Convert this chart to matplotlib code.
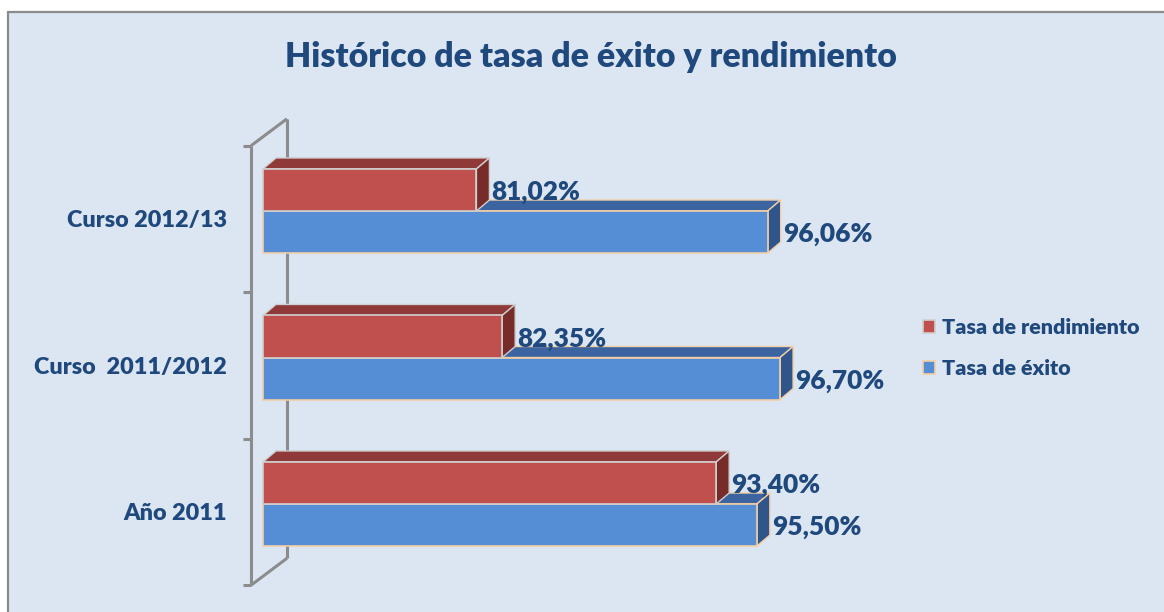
import matplotlib
matplotlib.use('Agg')
import matplotlib.pyplot as plt
from matplotlib.patches import Polygon, Rectangle, Patch
from matplotlib.lines import Line2D
from matplotlib.transforms import IdentityTransform
import numpy as np

# ---------------- data ----------------
categories = ['Año 2011', 'Curso  2011/2012', 'Curso 2012/13']
tasa_exito = [95.50, 96.70, 96.06]
tasa_rendimiento = [93.40, 82.35, 81.02]
series_names = ['Tasa de rendimiento', 'Tasa de éxito']
title = 'Histórico de tasa de éxito y rendimiento'
x_min, x_max = 70, 100

# ---------------- style ----------------
W, H, DPI = 1164, 612, 100
BG = '#DCE6F2'
TXT = '#1F497D'
RED, RED_TOP, RED_SIDE, RED_EDGE = '#C0504D', '#8F3A38', '#772C2A', '#CFCFCF'
BLUE, BLUE_TOP, BLUE_SIDE, BLUE_EDGE = '#558ED5', '#3B64A0', '#30558A', '#F3CFA6'
WALL = '#8C8C8C'
FONT = 'Lato'
WEIGHT = 'heavy'
DX, DY = 13, 11          # bar depth (pixels)
WX, WY = 36, 27          # wall depth (pixels)
WOFF = (-12, -8)         # wall front plane offset from bar front plane

fig = plt.figure(figsize=(W / DPI, H / DPI), dpi=DPI)
fig.patch.set_facecolor('white')
fig.patches.append(Rectangle((8 / W, -0.02), 1.02 - 8 / W, 1 - 12 / H + 0.02,
                             transform=fig.transFigure, facecolor=BG,
                             edgecolor='#8A8A8A', linewidth=1.6, zorder=-10))

ax = fig.add_axes([263 / W, (H - 577.25) / H, (844 - 263) / W, 439.5 / H])
ax.set_xlim(x_min, x_max)
ax.set_ylim(-0.5, len(categories) - 0.5)
ax.axis('off')

renderer = fig.canvas.get_renderer()


def fit(t, target):
    w = t.get_window_extent(renderer).width
    t.set_fontsize(t.get_fontsize() * target / w)
    return t.get_fontsize()


h = 0.287
y = np.arange(len(categories))
idt = IdentityTransform()

# ---------------- wall ----------------
def disp(x, yy):
    return ax.transData.transform((x, yy))

ft = disp(x_min, len(categories) - 0.5) + np.array(WOFF)
fb = disp(x_min, -0.5) + np.array(WOFF)
bt = ft + np.array([WX, WY])
bb = fb + np.array([WX, WY])
wall_lines = [
    [ft, fb], [bt, bb], [ft, bt], [fb, bb],
]
for b in np.arange(-0.5, len(categories), 1.0):
    p = disp(x_min, b) + np.array(WOFF)
    wall_lines.append([p, p + np.array([-8, 0])])
for seg in wall_lines:
    seg = np.array(seg)
    ax.add_line(Line2D(seg[:, 0], seg[:, 1], transform=idt, color=WALL,
                       lw=2.2, clip_on=False, zorder=1, solid_capstyle='butt'))

# ---------------- bars ----------------
def faces(bars, top_c, side_c, edge, z):
    for r in bars:
        x0, y0 = r.get_x(), r.get_y()
        x1, y1 = x0 + r.get_width(), y0 + r.get_height()
        (X0, Y0), (X1, Y1) = ax.transData.transform([(x0, y0), (x1, y1)])
        top = [(X0, Y1), (X1, Y1), (X1 + DX, Y1 + DY), (X0 + DX, Y1 + DY)]
        side = [(X1, Y0), (X1, Y1), (X1 + DX, Y1 + DY), (X1 + DX, Y0 + DY)]
        ax.add_patch(Polygon(top, closed=True, transform=idt, facecolor=top_c,
                             edgecolor=edge, lw=1.0, clip_on=False, zorder=z))
        ax.add_patch(Polygon(side, closed=True, transform=idt, facecolor=side_c,
                             edgecolor=edge, lw=1.0, clip_on=False, zorder=z))


bars_b = ax.barh(y - h / 2, [v - x_min for v in tasa_exito], left=x_min, height=h,
                 color=BLUE, edgecolor=BLUE_EDGE, lw=1.2, zorder=3, clip_on=False)
faces(bars_b, BLUE_TOP, BLUE_SIDE, BLUE_EDGE, 2)
bars_r = ax.barh(y + h / 2, [v - x_min for v in tasa_rendimiento], left=x_min, height=h,
                 color=RED, edgecolor=RED_EDGE, lw=1.2, zorder=5, clip_on=False)
faces(bars_r, RED_TOP, RED_SIDE, RED_EDGE, 4)

# ---------------- labels ----------------
def fmt(v):
    return f'{v:.2f}%'.replace('.', ',')

probe = fig.text(0, 0, fmt(96.06), family=FONT, weight=WEIGHT, fontsize=20)
lab_fs = fit(probe, 89)
probe.remove()

for vals, off in ((tasa_exito, -h / 2), (tasa_rendimiento, h / 2)):
    for i, v in enumerate(vals):
        ax.annotate(fmt(v), xy=(v, i + off), xytext=(DX + 2, 0),
                    textcoords='offset pixels', ha='left', va='center_baseline',
                    family=FONT, weight=WEIGHT, fontsize=lab_fs, color=TXT,
                    zorder=10, annotation_clip=False)

probe = fig.text(0, 0, 'Curso 2012/13', family=FONT, weight=WEIGHT, fontsize=16)
cat_fs = fit(probe, 160)
probe.remove()
for i, c in enumerate(categories):
    ax.annotate(c, xy=(x_min, i), xytext=(-36, -8), textcoords='offset pixels',
                ha='right', va='center_baseline', family=FONT, weight=WEIGHT,
                fontsize=cat_fs, color=TXT, annotation_clip=False)

t = fig.text(591 / W, 1 - 67 / H, title, ha='center', va='baseline',
             family=FONT, weight=WEIGHT, fontsize=24, color=TXT)
fit(t, 613)

probe = fig.text(0, 0, series_names[0], family=FONT, weight=WEIGHT, fontsize=14)
leg_fs = fit(probe, 197)
probe.remove()

handles = [Patch(facecolor=RED, edgecolor=RED_EDGE, lw=1.2),
           Patch(facecolor=BLUE, edgecolor=BLUE_EDGE, lw=1.2)]
fig.legend(handles, series_names, loc='center left',
           bbox_to_anchor=(923 / W, 1 - 348 / H), frameon=False,
           prop={'family': FONT, 'weight': WEIGHT, 'size': leg_fs},
           labelcolor=TXT, handlelength=0.55, handleheight=0.55,
           handletextpad=0.35, labelspacing=1.0, borderpad=0, borderaxespad=0)

fig.savefig('out.png', dpi=DPI, facecolor='white')
